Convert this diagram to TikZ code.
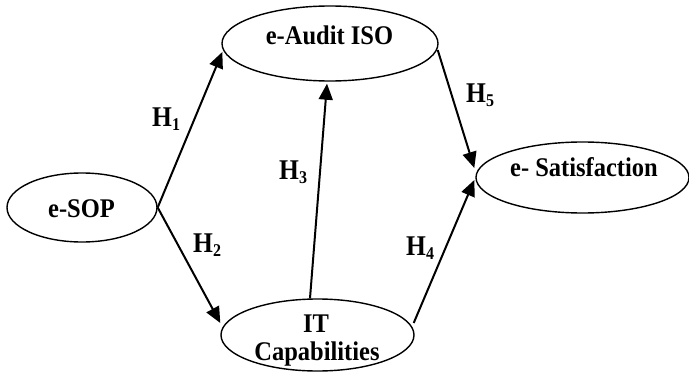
\documentclass[tikz,border=0pt]{standalone}
\usepackage{fontspec}
\setmainfont{Liberation Serif}
\usetikzlibrary{shapes.geometric,arrows.meta,calc}
\newcommand{\Hyp}[1]{\scalebox{1}[1.12]{H\raisebox{-4pt}{\fontsize{16}{16}\selectfont #1}}}
\newcommand{\Tall}[1]{\scalebox{1}[1.1]{#1}}
\begin{document}
\begin{tikzpicture}[x=1pt,y=-1pt,
  ell/.style={draw, line width=1.4pt, ellipse, inner sep=0pt},
  txt/.style={font=\fontsize{24.5}{30}\selectfont\bfseries, inner sep=0pt, anchor=base},
  hyp/.style={font=\fontsize{25.5}{30}\selectfont\bfseries, inner sep=0pt, anchor=base west},
  arr/.style={line width=2pt, -{Triangle[length=16pt,width=14pt]}}]
\useasboundingbox (0,0) rectangle (689,372);
% ellipses
\node[ell, minimum width=216pt, minimum height=75pt] (audit) at (330,43.5) {};
\node[ell, minimum width=213pt, minimum height=71pt] (sat) at (582.5,177.5) {};
\node[ell, minimum width=150pt, minimum height=69pt] (sop) at (82,207.5) {};
\node[ell, minimum width=193pt, minimum height=72pt] (it) at (317.5,335) {};
% texts
\node[txt] (auditT) at (329.5,44) {\Tall{e-Audit ISO}};
\node[txt] (satT) at (584,176) {\Tall{e- Satisfaction}};
\node[txt] (sopT) at (81.5,217) {\Tall{e-SOP}};
\node[txt] (itT1) at (316,332) {\Tall{IT}};
\node[txt] (itT2) at (317,360) {\Tall{Capabilities}};
% arrows
\draw[arr] (sop.east) -- ($(audit.west)+(1,8.5)$);
\draw[arr] (sop.east) -- ($(it.west)+(0,-12)$);
\draw[arr] ($(it.north)+(-7.5,0)$) -- ($(audit.south)+(-3,2)$);
\draw[arr] ($(it.east)+(-1,-12)$) -- ($(sat.west)+(-1,2.5)$);
\draw[arr] ($(audit.east)+(-1,6.5)$) -- ($(sat.west)+(-1,-9.5)$);
% labels
\node[hyp] (h1) at (152,126) {\Hyp{1}};
\node[hyp] (h2) at (193,252) {\Hyp{2}};
\node[hyp] (h3) at (279,179) {\Hyp{3}};
\node[hyp] (h4) at (406,255) {\Hyp{4}};
\node[hyp] (h5) at (466,102) {\Hyp{5}};
\end{tikzpicture}
\end{document}
